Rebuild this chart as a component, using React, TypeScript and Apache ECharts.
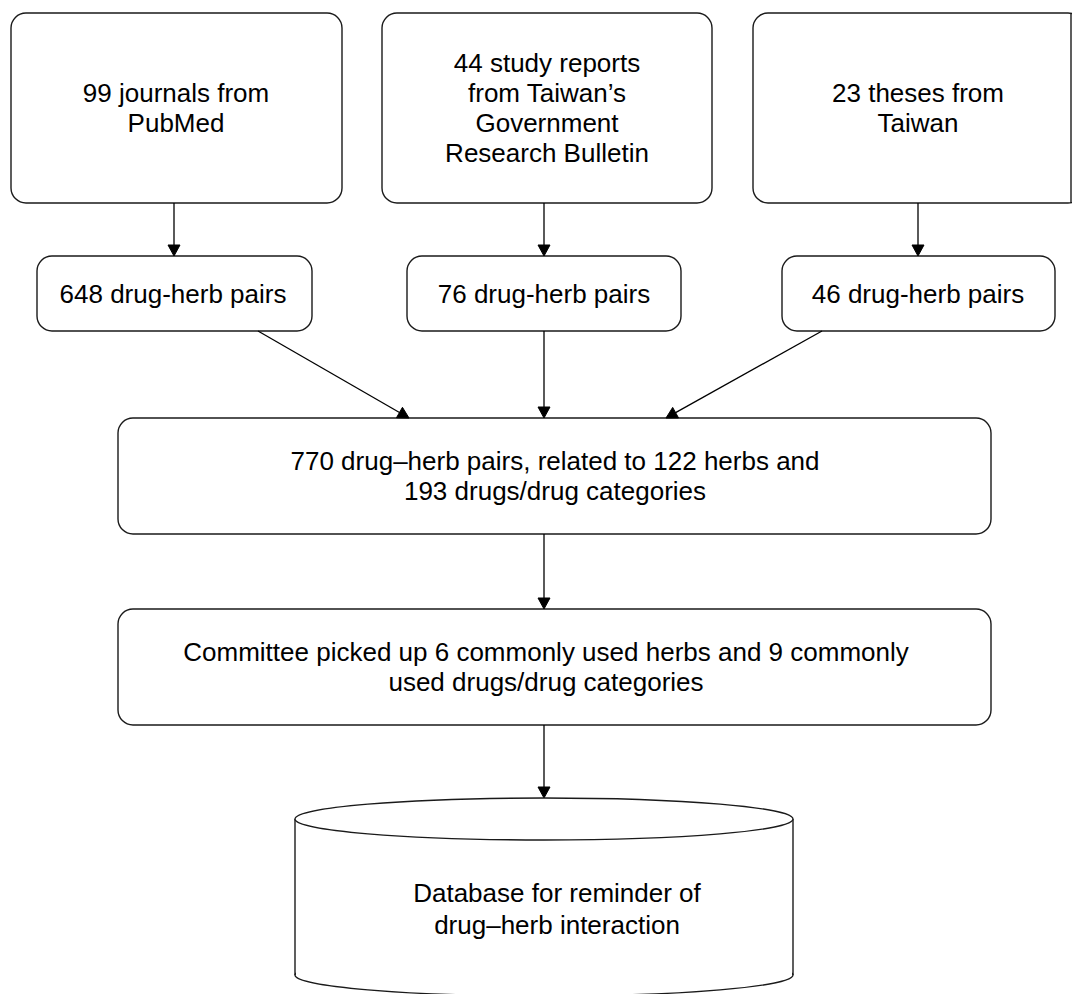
import React, { useEffect, useRef } from "react";
import * as echarts from "echarts";

// Node texts
const sourceLabels = [
  "99 journals from\nPubMed",
  "44 study reports\nfrom Taiwan’s\nGovernment\nResearch Bulletin",
  "23 theses from\nTaiwan",
];
const pairLabels = ["648 drug-herb pairs", "76 drug-herb pairs", "46 drug-herb pairs"];
const mergedLabel = "770 drug–herb pairs, related to 122 herbs and\n193 drugs/drug categories";
const committeeLabel = "Committee picked up 6 commonly used herbs and 9 commonly\nused drugs/drug categories";
const databaseLabel = "Database for reminder of\ndrug–herb interaction";

// Layout (pixels)
const sourceBoxes = [
  { x: 11, y: 13, w: 331, h: 190, tx: 176 },
  { x: 382, y: 13, w: 330, h: 190, tx: 547 },
  { x: 753, y: 13, w: 330, h: 190, tx: 918 },
];
const pairBoxes = [
  { x: 37, y: 256, w: 275, h: 75, tx: 173 },
  { x: 407, y: 256, w: 274, h: 75, tx: 544 },
  { x: 782, y: 256, w: 273, h: 75, tx: 918 },
];
const mergedBox = { x: 118, y: 418, w: 873, h: 116, tx: 555 };
const committeeBox = { x: 118, y: 609, w: 873, h: 116, tx: 546 };
const cyl = { cx: 544, top: 819, bottom: 975, rx: 249, ry: 21, tx: 557, ty: 909 };

const arrows: [number, number, number, number][] = [
  [174, 203, 174, 256],
  [544, 203, 544, 256],
  [918, 203, 918, 256],
  [258, 331, 409, 418],
  [544, 331, 544, 418],
  [822, 331, 666, 418],
  [544, 534, 544, 609],
  [544, 725, 544, 798],
];

const FONT = '"Liberation Sans", Arial, sans-serif';
const STROKE = "#1a1a1a";

function box(b: any, label: string) {
  return [
    {
      type: "rect",
      shape: { x: b.x, y: b.y, width: b.w, height: b.h, r: 15 },
      style: { fill: "#fff", stroke: STROKE, lineWidth: 1.4 },
      z: 1,
    },
    {
      type: "text",
      x: b.tx,
      y: b.y + b.h / 2,
      style: {
        text: label,
        fontSize: 26,
        fontFamily: FONT,
        lineHeight: 30,
        fill: "#000",
        align: "center",
        verticalAlign: "middle",
      },
      z: 5,
    },
  ];
}

function arrow(a: [number, number, number, number]) {
  const [x1, y1, x2, y2] = a;
  const dx = x2 - x1;
  const dy = y2 - y1;
  const len = Math.sqrt(dx * dx + dy * dy);
  const ux = dx / len;
  const uy = dy / len;
  const L = 11;
  const W = 6;
  const bx = x2 - ux * L;
  const by = y2 - uy * L;
  return [
    {
      type: "line",
      shape: { x1, y1, x2: bx, y2: by },
      style: { stroke: "#000", lineWidth: 1.3 },
      z: 3,
    },
    {
      type: "polygon",
      shape: {
        points: [
          [x2, y2],
          [bx - uy * W, by + ux * W],
          [bx + uy * W, by - ux * W],
        ],
      },
      style: { fill: "#000", stroke: "#000", lineWidth: 1 },
      z: 3,
    },
  ];
}

export default function App() {
  const ref = useRef<HTMLDivElement>(null);
  useEffect(() => {
    document.body.style.margin = "0";
    const chart = echarts.init(ref.current!, null, { renderer: "svg" });
    const elements: any[] = [];
    sourceBoxes.forEach((b, i) => elements.push(...box(b, sourceLabels[i])));
    elements.push({
      type: "line",
      shape: { x1: 1071, y1: 13, x2: 1071, y2: 203 },
      style: { stroke: STROKE, lineWidth: 1.4 },
      z: 2,
    });
    pairBoxes.forEach((b, i) => elements.push(...box(b, pairLabels[i])));
    elements.push(...box(mergedBox, mergedLabel));
    elements.push(...box(committeeBox, committeeLabel));
    arrows.forEach((a) => elements.push(...arrow(a)));

    // cylinder
    elements.push({
      type: "ellipse",
      shape: { cx: cyl.cx, cy: cyl.bottom, rx: cyl.rx, ry: cyl.ry },
      style: { fill: "#fff", stroke: STROKE, lineWidth: 1.4 },
      z: 1,
    });
    elements.push({
      type: "rect",
      shape: { x: cyl.cx - cyl.rx + 1, y: cyl.top, width: cyl.rx * 2 - 2, height: cyl.bottom - cyl.top },
      style: { fill: "#fff", stroke: null },
      z: 2,
    });
    elements.push({
      type: "line",
      shape: { x1: cyl.cx - cyl.rx, y1: cyl.top, x2: cyl.cx - cyl.rx, y2: cyl.bottom },
      style: { stroke: STROKE, lineWidth: 1.4 },
      z: 3,
    });
    elements.push({
      type: "line",
      shape: { x1: cyl.cx + cyl.rx, y1: cyl.top, x2: cyl.cx + cyl.rx, y2: cyl.bottom },
      style: { stroke: STROKE, lineWidth: 1.4 },
      z: 3,
    });
    elements.push({
      type: "ellipse",
      shape: { cx: cyl.cx, cy: cyl.top, rx: cyl.rx, ry: cyl.ry },
      style: { fill: "#fff", stroke: STROKE, lineWidth: 1.4 },
      z: 4,
    });
    elements.push({
      type: "text",
      x: cyl.tx,
      y: cyl.ty,
      style: {
        text: databaseLabel,
        fontSize: 26,
        fontFamily: FONT,
        lineHeight: 32,
        fill: "#000",
        align: "center",
        verticalAlign: "middle",
      },
      z: 5,
    });

    chart.setOption({
      animation: false,
      backgroundColor: "#fff",
      graphic: { elements },
    });
    return () => chart.dispose();
  }, []);
  return <div ref={ref} style={{ width: 1072, height: 994 }} />;
}
